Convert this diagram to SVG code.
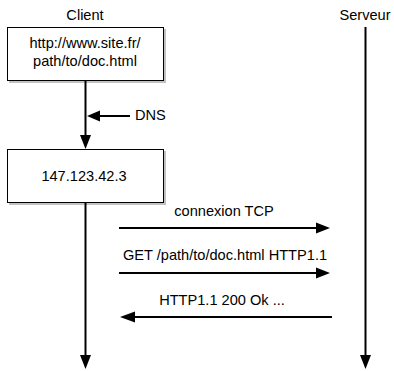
<svg xmlns="http://www.w3.org/2000/svg" width="394" height="371" viewBox="0 0 394 371">
<style>
text{font-family:"Liberation Sans",Arial,sans-serif;font-size:14.6px;fill:#000}
.box{fill:#fff;stroke:#000;stroke-width:1}
.sh{fill:#999;opacity:0.6}
.ln{stroke:#000;stroke-width:2;fill:none}
.ah{fill:#000}
</style>
<rect width="394" height="371" fill="#fff"/>
<g id="client-label"><text x="85" y="20" text-anchor="middle">Client</text></g>
<g id="server-label"><text x="365" y="20" text-anchor="middle">Serveur</text></g>
<g id="url">
<rect class="sh" x="9" y="29" width="157" height="54"/>
<rect class="box" x="7.5" y="27.5" width="156" height="53"/>
<text x="85" y="48" text-anchor="middle">http://www.site.fr/</text>
<text x="85" y="66" text-anchor="middle">path/to/doc.html</text>
</g>
<g id="ip">
<rect class="sh" x="9" y="151" width="157" height="54"/>
<rect class="box" x="7.5" y="149.5" width="156" height="53"/>
<text x="84" y="181" text-anchor="middle">147.123.42.3</text>
</g>
<g id="dns-label"><text x="135" y="120">DNS</text></g>
<g id="connectors">
<line class="ln" x1="85.5" y1="81" x2="85.5" y2="136"/>
<polygon class="ah" points="80,135 91,135 85.5,149"/>
<line class="ln" x1="85.5" y1="203" x2="85.5" y2="356"/>
<polygon class="ah" points="80,355 91,355 85.5,369"/>
<line class="ln" x1="130" y1="116" x2="98" y2="116"/>
<polygon class="ah" points="100,110.5 100,121.5 87,116"/>
<line class="ln" x1="365.5" y1="27" x2="365.5" y2="356"/>
<polygon class="ah" points="360,355 371,355 365.5,369"/>
<line class="ln" x1="119" y1="228" x2="318" y2="228"/>
<polygon class="ah" points="316,222.5 316,233.5 330,228"/>
<line class="ln" x1="119" y1="273" x2="318" y2="273"/>
<polygon class="ah" points="316,267.5 316,278.5 330,273"/>
<line class="ln" x1="332" y1="317" x2="133" y2="317"/>
<polygon class="ah" points="135,311.5 135,322.5 120,317"/>
</g>
<g id="labels">
<text x="224" y="216" text-anchor="middle">connexion TCP</text>
<text x="225" y="260" text-anchor="middle">GET /path/to/doc.html HTTP1.1</text>
<text x="222" y="305" text-anchor="middle">HTTP1.1 200 Ok ...</text>
</g>
</svg>
